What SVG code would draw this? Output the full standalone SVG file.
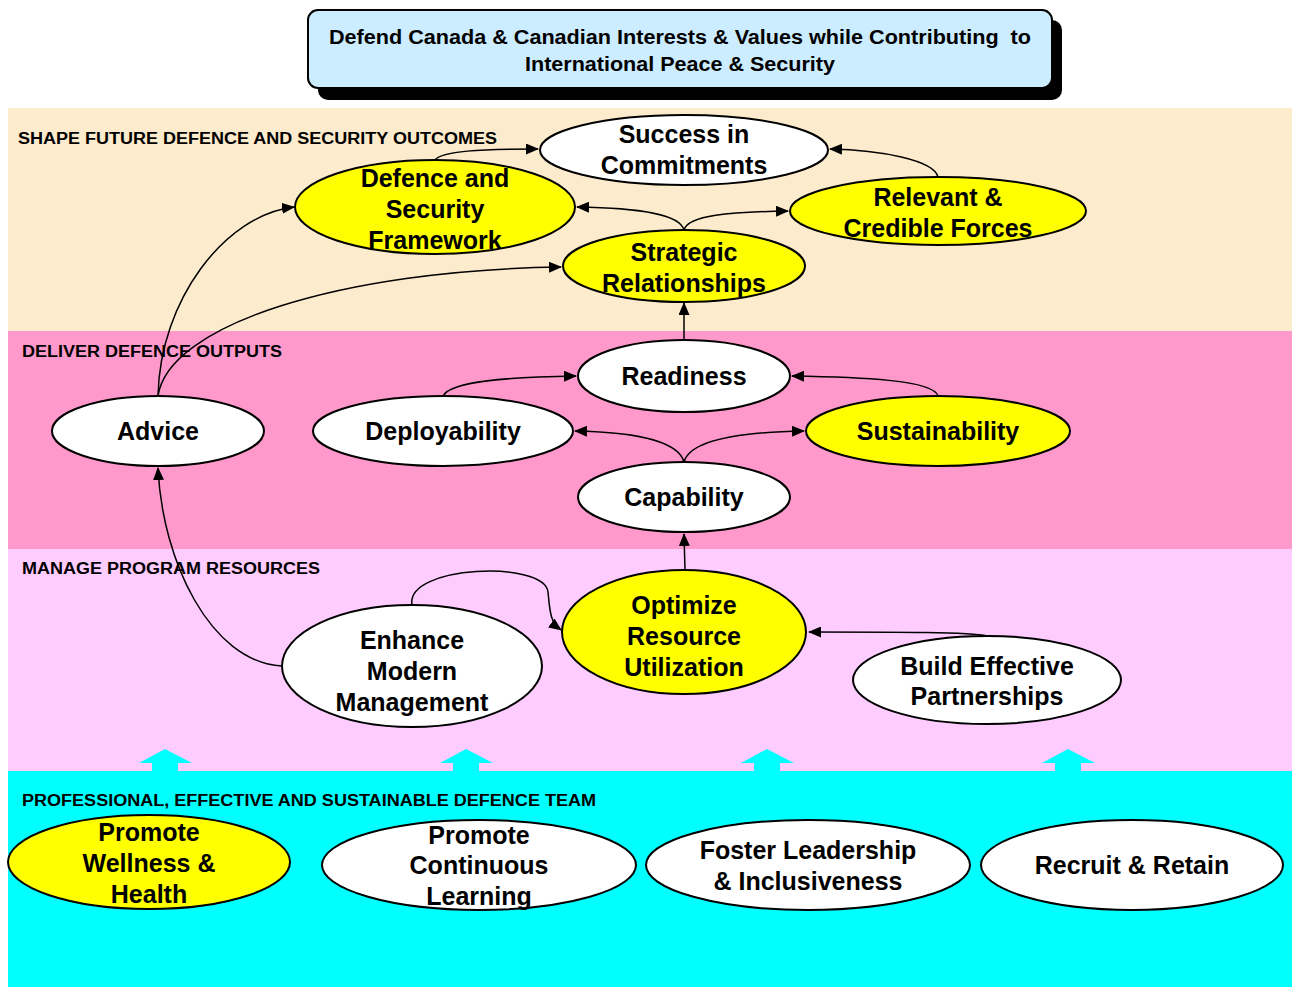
<svg xmlns="http://www.w3.org/2000/svg" width="1292" height="987" viewBox="0 0 1292 987">
  <style>
    .node { stroke: #000; stroke-width: 2; }
    .yel { fill: #FFFF00; }
    .wht { fill: #FFFFFF; }
    .lbl { font-family: "Liberation Sans", Arial, sans-serif; font-weight: bold; font-size: 25px; fill: #000; text-anchor: middle; }
    .sec { font-family: "Liberation Sans", Arial, sans-serif; font-weight: bold; font-size: 16px; fill: #000; }
    .hdr { font-family: "Liberation Sans", Arial, sans-serif; font-weight: bold; font-size: 20px; fill: #000; text-anchor: middle; }
    .edge { fill: none; stroke: #000; stroke-width: 1.5; marker-end: url(#arrow); }
    .up { fill: #00FFFF; }
  </style>
  <defs>
    <marker id="arrow" viewBox="0 0 13 11" refX="12" refY="5.5" markerWidth="13" markerHeight="11" markerUnits="userSpaceOnUse" orient="auto">
      <path d="M0,0 L13,5.5 L0,11 Z" fill="#000"/>
    </marker>
  </defs>

  <rect x="0" y="0" width="1292" height="987" fill="#FFFFFF"/>

  <!-- horizontal bands -->
  <g id="bands">
    <rect x="8" y="108" width="1284" height="223" fill="#FDEBCD"/>
    <rect x="8" y="331" width="1284" height="218" fill="#FF99CC"/>
    <rect x="8" y="549" width="1284" height="222" fill="#FFCCFF"/>
    <rect x="8" y="771" width="1284" height="216" fill="#00FFFF"/>
  </g>

  <!-- upward arrows from the team band -->
  <g id="team-arrows">
    <path class="up" d="M139,763 L165,749 L192,763 L178,763 L178,772 L152,772 L152,763 Z"/>
    <path class="up" d="M440,763 L466,749 L493,763 L479,763 L479,772 L453,772 L453,763 Z"/>
    <path class="up" d="M741,763 L767,749 L794,763 L780,763 L780,772 L754,772 L754,763 Z"/>
    <path class="up" d="M1042,763 L1068,749 L1095,763 L1081,763 L1081,772 L1055,772 L1055,763 Z"/>
  </g>

  <!-- section titles -->
  <g id="section-titles">
    <text class="sec" x="18" y="144" textLength="479" lengthAdjust="spacingAndGlyphs">SHAPE FUTURE DEFENCE AND SECURITY OUTCOMES</text>
    <text class="sec" x="22" y="357" textLength="260" lengthAdjust="spacingAndGlyphs">DELIVER DEFENCE OUTPUTS</text>
    <text class="sec" x="22" y="574" textLength="298" lengthAdjust="spacingAndGlyphs">MANAGE PROGRAM RESOURCES</text>
    <text class="sec" x="22" y="806" textLength="574" lengthAdjust="spacingAndGlyphs">PROFESSIONAL, EFFECTIVE AND SUSTAINABLE DEFENCE TEAM</text>
  </g>

  <!-- mission statement -->
  <g id="mission">
    <rect x="318" y="20" width="744" height="80" rx="10" fill="#000"/>
    <rect x="308" y="10" width="744" height="78" rx="10" fill="#CCECFF" stroke="#000" stroke-width="2"/>
    <text class="hdr" x="680" y="44" textLength="702" lengthAdjust="spacingAndGlyphs" xml:space="preserve">Defend Canada &amp; Canadian Interests &amp; Values while Contributing  to</text>
    <text class="hdr" x="680" y="71" textLength="310" lengthAdjust="spacingAndGlyphs">International Peace &amp; Security</text>
  </g>

  <!-- connectors -->
  <g id="connectors">
    <path class="edge" d="M435,160 C442,151 480,149 538,149"/>
    <path class="edge" d="M938,177 C934,160 880,150 830,149"/>
    <path class="edge" d="M684,230 C680,214 640,208 577,207"/>
    <path class="edge" d="M684,230 C688,215 730,212 788,211"/>
    <path class="edge" d="M158,396 C160,300 225,215 294,207"/>
    <path class="edge" d="M158,396 C168,325 340,270 561,267"/>
    <path class="edge" d="M684,340 L684,303"/>
    <path class="edge" d="M443,396 C450,381 510,377 576,376"/>
    <path class="edge" d="M938,396 C934,380 860,377 792,376"/>
    <path class="edge" d="M684,462 C678,440 630,432 575,431"/>
    <path class="edge" d="M684,462 C690,440 740,432 804,431"/>
    <path class="edge" d="M685,570 L684,534"/>
    <path class="edge" d="M282,666 C210,662 162,560 158,468"/>
    <path class="edge" d="M412,605 C405,565 545,560 548,592 C550,612 550,622 561,630"/>
    <path class="edge" d="M987,636 C970,632 900,632 809,632"/>
  </g>

  <!-- outcome nodes -->
  <g id="success-in-commitments">
    <ellipse class="node wht" cx="684" cy="150" rx="144" ry="35"/>
    <text class="lbl" x="684" y="143">Success in</text>
    <text class="lbl" x="684" y="174">Commitments</text>
  </g>
  <g id="defence-security-framework">
    <ellipse class="node yel" cx="435" cy="207" rx="140" ry="47"/>
    <text class="lbl" x="435" y="187">Defence and</text>
    <text class="lbl" x="435" y="218">Security</text>
    <text class="lbl" x="435" y="249">Framework</text>
  </g>
  <g id="relevant-credible-forces">
    <ellipse class="node yel" cx="938" cy="211" rx="148" ry="34"/>
    <text class="lbl" x="938" y="206">Relevant &amp;</text>
    <text class="lbl" x="938" y="237">Credible Forces</text>
  </g>
  <g id="strategic-relationships">
    <ellipse class="node yel" cx="684" cy="266" rx="121" ry="36"/>
    <text class="lbl" x="684" y="261">Strategic</text>
    <text class="lbl" x="684" y="292">Relationships</text>
  </g>

  <!-- output nodes -->
  <g id="readiness">
    <ellipse class="node wht" cx="684" cy="376" rx="106" ry="36"/>
    <text class="lbl" x="684" y="385">Readiness</text>
  </g>
  <g id="advice">
    <ellipse class="node wht" cx="158" cy="431" rx="106" ry="35"/>
    <text class="lbl" x="158" y="440">Advice</text>
  </g>
  <g id="deployability">
    <ellipse class="node wht" cx="443" cy="431" rx="130" ry="35"/>
    <text class="lbl" x="443" y="440">Deployability</text>
  </g>
  <g id="sustainability">
    <ellipse class="node yel" cx="938" cy="431" rx="132" ry="35"/>
    <text class="lbl" x="938" y="440">Sustainability</text>
  </g>
  <g id="capability">
    <ellipse class="node wht" cx="684" cy="497" rx="106" ry="35"/>
    <text class="lbl" x="684" y="506">Capability</text>
  </g>

  <!-- resource nodes -->
  <g id="optimize-resource-utilization">
    <ellipse class="node yel" cx="684" cy="632" rx="122" ry="62"/>
    <text class="lbl" x="684" y="614">Optimize</text>
    <text class="lbl" x="684" y="645">Resource</text>
    <text class="lbl" x="684" y="676">Utilization</text>
  </g>
  <g id="enhance-modern-management">
    <ellipse class="node wht" cx="412" cy="666" rx="130" ry="61"/>
    <text class="lbl" x="412" y="649">Enhance</text>
    <text class="lbl" x="412" y="680">Modern</text>
    <text class="lbl" x="412" y="711">Management</text>
  </g>
  <g id="build-effective-partnerships">
    <ellipse class="node wht" cx="987" cy="680" rx="134" ry="44"/>
    <text class="lbl" x="987" y="675">Build Effective</text>
    <text class="lbl" x="987" y="705">Partnerships</text>
  </g>

  <!-- defence team nodes -->
  <g id="promote-wellness-health">
    <ellipse class="node yel" cx="149" cy="862" rx="141" ry="47"/>
    <text class="lbl" x="149" y="841">Promote</text>
    <text class="lbl" x="149" y="872">Wellness &amp;</text>
    <text class="lbl" x="149" y="903">Health</text>
  </g>
  <g id="promote-continuous-learning">
    <ellipse class="node wht" cx="479" cy="865" rx="157" ry="45"/>
    <text class="lbl" x="479" y="844">Promote</text>
    <text class="lbl" x="479" y="874">Continuous</text>
    <text class="lbl" x="479" y="905">Learning</text>
  </g>
  <g id="foster-leadership-inclusiveness">
    <ellipse class="node wht" cx="808" cy="865" rx="162" ry="45"/>
    <text class="lbl" x="808" y="859">Foster Leadership</text>
    <text class="lbl" x="808" y="890">&amp; Inclusiveness</text>
  </g>
  <g id="recruit-retain">
    <ellipse class="node wht" cx="1132" cy="865" rx="151" ry="45"/>
    <text class="lbl" x="1132" y="874">Recruit &amp; Retain</text>
  </g>
</svg>
